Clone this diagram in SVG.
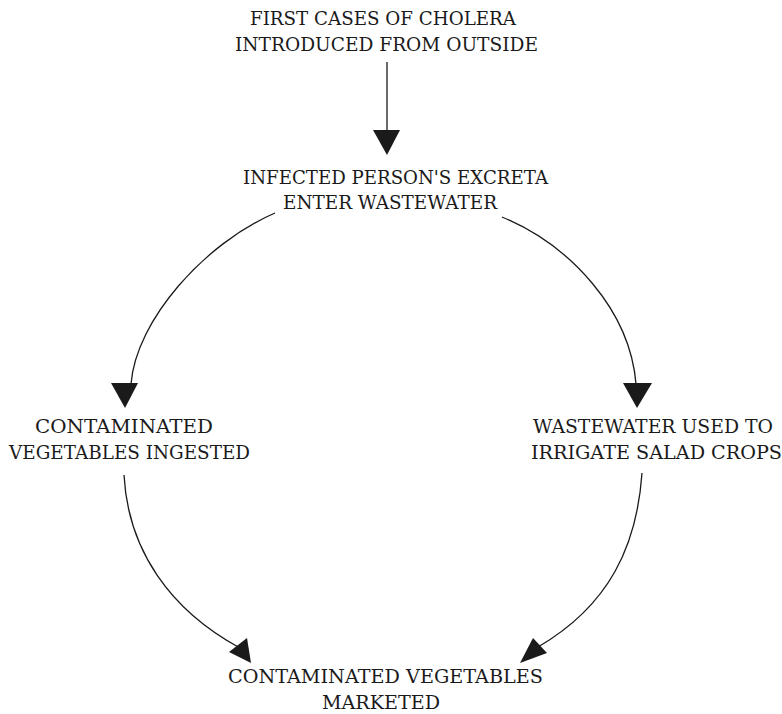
<svg xmlns="http://www.w3.org/2000/svg" width="782" height="714" viewBox="0 0 782 714">
<style>
text{font-family:"DejaVu Serif","Liberation Serif",serif;font-size:19px;fill:#1a1a1a}
.c{fill:none;stroke:#1a1a1a;stroke-width:1.3}
.h{fill:#1a1a1a;stroke:none}
</style>
<rect width="782" height="714" fill="#ffffff"/>
<g id="node-first-cases">
<text x="250" y="25" textLength="266" lengthAdjust="spacingAndGlyphs">FIRST CASES OF CHOLERA</text>
<text x="235" y="51" textLength="303" lengthAdjust="spacingAndGlyphs">INTRODUCED FROM OUTSIDE</text>
</g>
<g id="node-excreta">
<text x="243" y="184" textLength="305" lengthAdjust="spacingAndGlyphs">INFECTED PERSON'S EXCRETA</text>
<text x="283" y="209" textLength="214" lengthAdjust="spacingAndGlyphs">ENTER WASTEWATER</text>
</g>
<g id="node-ingested">
<text x="35" y="433" textLength="178" lengthAdjust="spacingAndGlyphs">CONTAMINATED</text>
<text x="9" y="459" textLength="241" lengthAdjust="spacingAndGlyphs">VEGETABLES INGESTED</text>
</g>
<g id="node-irrigate">
<text x="533" y="433" textLength="240" lengthAdjust="spacingAndGlyphs">WASTEWATER USED TO</text>
<text x="531" y="459" textLength="251" lengthAdjust="spacingAndGlyphs">IRRIGATE SALAD CROPS</text>
</g>
<g id="node-marketed">
<text x="228" y="683" textLength="315" lengthAdjust="spacingAndGlyphs">CONTAMINATED VEGETABLES</text>
<text x="322" y="709" textLength="118" lengthAdjust="spacingAndGlyphs">MARKETED</text>
</g>
<g id="connectors">
<path class="c" d="M387,62 L387,131"/>
<polygon class="h" points="373,130 400,130 387,155"/>
<path class="c" d="M275,213 C205,243 136,320 131,384"/>
<polygon class="h" points="111,383 138,383 125,408"/>
<path class="c" d="M502,217 C570,245 630,310 636,384"/>
<polygon class="h" points="623,383 652,383 637,408"/>
<path class="c" d="M124,475 C128,550 170,610 240,648"/>
<polygon class="h" points="229,652 247,638 251,663"/>
<path class="c" d="M642,473 C637,545 610,605 538,647"/>
<polygon class="h" points="533,638 547,653 520,663"/>
</g>
</svg>
